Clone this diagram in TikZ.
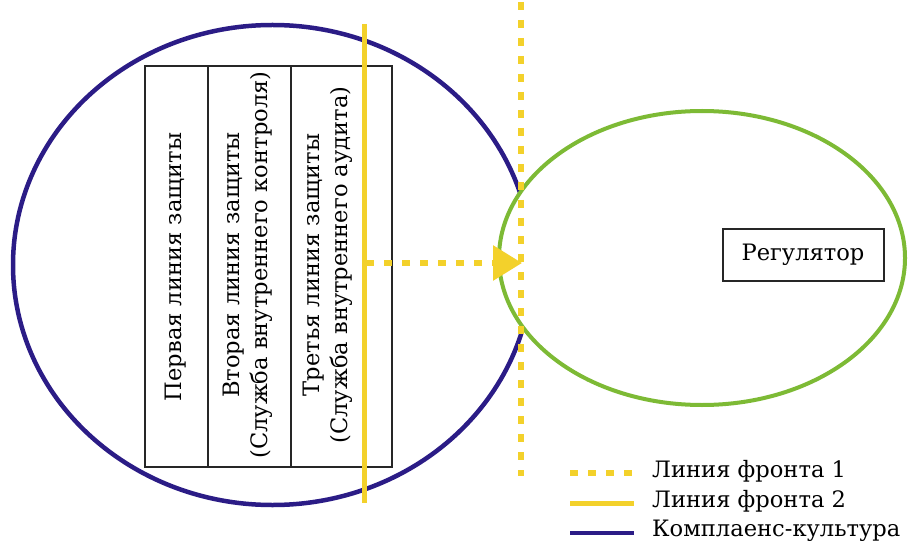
\documentclass[tikz,border=0pt]{standalone}
\usepackage{fontspec}
\setmainfont{DejaVu Serif}
\usetikzlibrary{shapes.geometric,arrows.meta}
\definecolor{cblue}{HTML}{2B1C86}
\definecolor{cgreen}{HTML}{7DBA35}
\definecolor{cyellow}{HTML}{F3D12B}
\definecolor{cbox}{HTML}{262626}
\tikzset{
  x=1pt,y=-1pt,
  lbl/.style={font=\fontsize{22.6}{28}\selectfont, text=black, align=center, inner sep=0pt},
  linebox/.style={draw=cbox, line width=2pt, fill=white, minimum width=#1, minimum height=401pt, inner sep=0pt},
  dotline/.style={draw=cyellow, line width=6pt, dash pattern=on 8pt off 10pt},
  solidline/.style={draw=cyellow, line width=5pt},
  culture/.style={draw=cblue, line width=4.5pt},
}
\begin{document}
\begin{tikzpicture}
\useasboundingbox (0,0) rectangle (909,545);
% compliance culture ellipse
\node[ellipse, culture, minimum width=519pt, minimum height=480pt, inner sep=0pt] (compl) at (272.5,265) {};
% regulator zone
\node[ellipse, draw=cgreen, line width=4pt, fill=white, minimum width=406pt, minimum height=294pt, inner sep=0pt] (regzone) at (702,258) {};
% boxes
\node[linebox=63pt] (b1) at (176.5,266.5) {};
\node[linebox=83pt] (b2) at (249.5,266.5) {};
\node[linebox=101pt] (b3) at (341.5,266.5) {};
\node[lbl, rotate=90] (t1) at (176,267) {Первая линия защиты};
\node[lbl, rotate=90] (t2) at (248,265) {Вторая линия защиты\\(Служба внутреннего контроля)};
\node[lbl, rotate=90] (t3) at (328,265) {Третья линия защиты\\(Служба внутреннего аудита)};
% front line 2
\coordinate (f2top) at (364,24);
\coordinate (f2bot) at (364,503);
\draw[solidline] (f2top) -- (f2bot);
% front line 1
\coordinate (f1top) at (521,2);
\coordinate (f1bot) at (521,476);
\draw[dotline] (f1top) -- (f1bot);
% arrow
\coordinate (arrS) at (366,263);
\coordinate (arrE) at (522,263);
\draw[dotline, -{Triangle[length=29pt,width=34pt,fill=cyellow]}] (arrS) -- (arrE);
% regulator
\node[draw=cbox, line width=2pt, minimum width=161pt, minimum height=51pt, inner sep=0pt, font=\fontsize{22.6}{26}\selectfont] (reg) at (803,255) {Регулятор};
% legend
\coordinate (l1a) at (570,473); \coordinate (l1b) at (634,473);
\coordinate (l2a) at (570,503); \coordinate (l2b) at (634,503);
\coordinate (l3a) at (570,533); \coordinate (l3b) at (634,533);
\draw[dotline] (l1a) -- (l1b);
\draw[solidline] (l2a) -- (l2b);
\draw[culture] (l3a) -- (l3b);
\node[lbl, anchor=west] (g1) at (652,471) {Линия фронта 1};
\node[lbl, anchor=west] (g2) at (652,501) {Линия фронта 2};
\node[lbl, anchor=west] (g3) at (652,531) {Комплаенс-культура};
\end{tikzpicture}
\end{document}
